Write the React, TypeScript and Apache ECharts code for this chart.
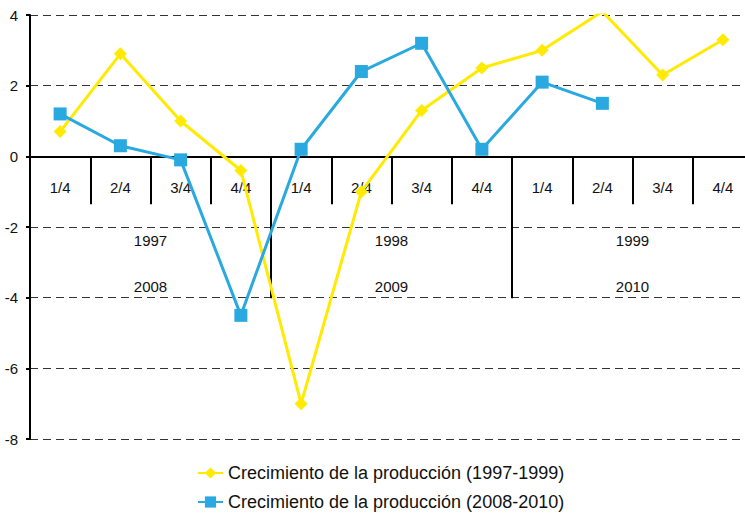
import React, { useEffect, useRef } from "react";
import * as echarts from "echarts";

const quarters = ["1/4", "2/4", "3/4", "4/4", "1/4", "2/4", "3/4", "4/4", "1/4", "2/4", "3/4", "4/4"];
const yearsA = ["1997", "1998", "1999"];
const yearsB = ["2008", "2009", "2010"];
const serieA = [0.7, 2.9, 1.0, -0.4, -7.0, -1.0, 1.3, 2.5, 3.0, 4.1, 2.3, 3.3];
const serieB = [1.2, 0.3, -0.1, -4.5, 0.2, 2.4, 3.2, 0.2, 2.1, 1.5, null, null];
const nameA = "Crecimiento de la producción (1997-1999)";
const nameB = "Crecimiento de la producción (2008-2010)";

const FONT = "'Liberation Sans', Arial, Helvetica, sans-serif";
const YELLOW = "#FFEA00";
const BLUE = "#29A9E0";

const Y_MIN = -8;
const Y_MAX = 4;
const GRID_TOP = 15;
const GRID_BOTTOM = 75;
const H = 514;

export default function App() {
  const ref = useRef<HTMLDivElement>(null);
  useEffect(() => {
    if (!ref.current) return;
    const chart = echarts.init(ref.current, undefined, { renderer: "svg" });
    const plotH = H - GRID_TOP - GRID_BOTTOM;
    // distance from grid bottom up to the zero line
    const zeroOffset = -(plotH * (0 - Y_MIN)) / (Y_MAX - Y_MIN);
    const legendBase = {
      orient: "horizontal",
      left: 197,
      padding: 0,
      itemWidth: 25,
      itemHeight: 14,
      textStyle: { fontSize: 18, lineHeight: 18, color: "#111", fontFamily: FONT },
    };
    chart.setOption({
      animation: false,
      backgroundColor: "#ffffff",
      textStyle: { fontFamily: FONT },
      grid: {
        left: 30,
        right: -8,
        top: GRID_TOP,
        bottom: GRID_BOTTOM,
        containLabel: false,
        outerBoundsMode: "none",
      },
      legend: [
        { ...legendBase, top: 464, data: [nameA] },
        { ...legendBase, top: 493, data: [nameB] },
      ],
      xAxis: [
        {
          type: "category",
          data: quarters,
          position: "bottom",
          offset: zeroOffset,
          boundaryGap: true,
          axisLine: { onZero: false, lineStyle: { color: "#000", width: 2 } },
          axisTick: { show: true, interval: 0, length: 48, lineStyle: { color: "#000", width: 2 } },
          axisLabel: { interval: 0, margin: 24, fontSize: 15, color: "#111", fontFamily: FONT },
          splitLine: { show: false },
        },
        {
          type: "category",
          data: yearsA,
          position: "bottom",
          offset: zeroOffset,
          boundaryGap: true,
          axisLine: { show: false, onZero: false },
          axisTick: { show: true, interval: 0, length: 142, lineStyle: { color: "#000", width: 2 } },
          axisLabel: {
            interval: 0,
            margin: 61,
            fontSize: 15,
            color: "#111",
            lineHeight: 46,
            fontFamily: FONT,
            formatter: (v: string, i: number) => `${v}\n${yearsB[i]}`,
          },
          splitLine: { show: false },
        },
      ],
      yAxis: {
        type: "value",
        min: Y_MIN,
        max: Y_MAX,
        interval: 2,
        axisLine: { show: true, lineStyle: { color: "#000", width: 2 } },
        axisTick: { show: true, length: 4, lineStyle: { color: "#000", width: 2 } },
        axisLabel: { margin: 12, fontSize: 15, color: "#111", fontFamily: FONT },
        splitLine: { show: true, lineStyle: { color: "#333", width: 1, type: [8, 5] } },
      },
      series: [
        {
          name: nameA,
          type: "line",
          data: serieA,
          symbol: "diamond",
          symbolSize: 13,
          lineStyle: { color: YELLOW, width: 3 },
          itemStyle: { color: YELLOW },
          z: 3,
        },
        {
          name: nameB,
          type: "line",
          data: serieB,
          symbol: "rect",
          symbolSize: 13,
          lineStyle: { color: BLUE, width: 3 },
          itemStyle: { color: BLUE },
          z: 4,
        },
      ],
    });
    return () => chart.dispose();
  }, []);
  return (
    <div
      ref={ref}
      style={{ position: "absolute", left: 0, top: 0, width: 745, height: 514 }}
    />
  );
}
